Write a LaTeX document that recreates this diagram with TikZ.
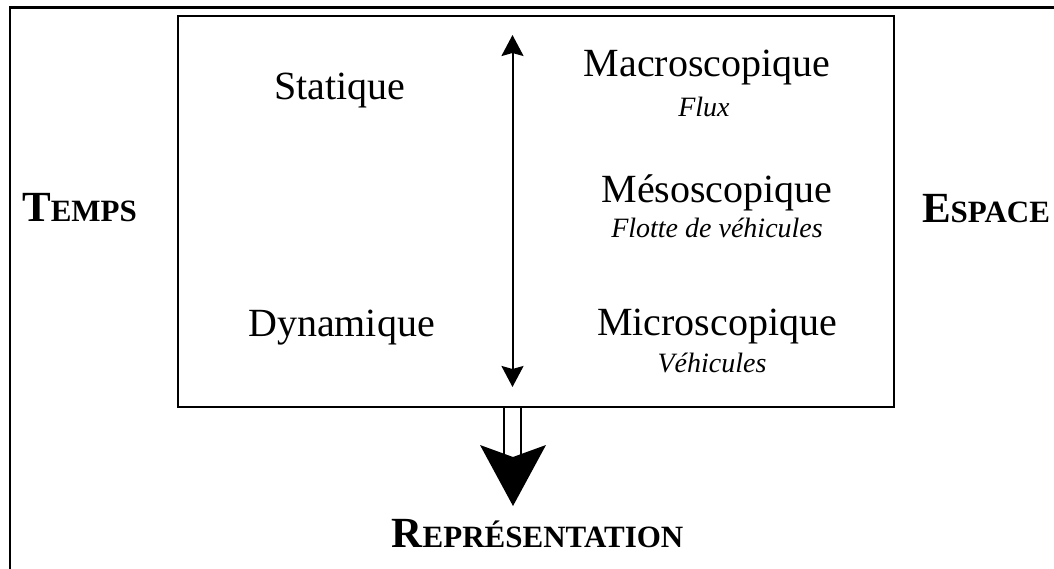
\documentclass[tikz,border=0pt]{standalone}
\usepackage{fontspec}
\setmainfont{Liberation Serif}
\usetikzlibrary{arrows.meta}
\newcommand{\fakesc}[2]{{\fontsize{43}{43}\selectfont #1}{\fontsize{31}{31}\selectfont #2}}
\tikzset{
  maintext/.style={anchor=base, inner sep=0pt, font=\fontsize{40}{40}\selectfont},
  subtext/.style={anchor=base, inner sep=0pt, font=\fontsize{28}{28}\selectfont\itshape},
  axistext/.style={anchor=base, inner sep=0pt, font=\bfseries},
  framebox/.style={draw, line width=2pt, inner sep=0pt},
  scalearrow/.style={line width=2pt, {Stealth[length=21pt,width=22pt,inset=3pt]}-{Stealth[length=21pt,width=22pt,inset=3pt]}},
}
\begin{document}
\begin{tikzpicture}[x=1pt,y=-1pt]
\useasboundingbox (0,0) rectangle (1054,569);
% outer frame (cropped)
\draw[line width=2.5pt] (10,569) -- (10,7.5) -- (1054,7.5);
% inner frame
\node[framebox, minimum width=716pt, minimum height=391pt] (frame) at (536,211.5) {};
% left column
\node[maintext] (stat) at (340,100) {Statique};
\node[maintext] (dyn) at (341.5,336) {Dynamique};
% right column
\node[maintext] (macro) at (707,77) {Macroscopique};
\node[subtext] (flux) at (704,117) {Flux};
\node[maintext] (meso) at (717,203) {Mésoscopique};
\node[subtext] (flotte) at (717,238) {Flotte de véhicules};
\node[maintext] (micro) at (717,335) {Microscopique};
\node[subtext] (veh) at (712,372) {Véhicules};
% axis labels
\node[axistext] (temps) at (79.5,222) {\fakesc{T}{EMPS}};
\node[axistext] (espace) at (986,223) {\fakesc{E}{SPACE}};
\node[axistext] (repr) at (537.5,547) {\fakesc{R}{EPRÉSENTATION}};
% scale arrow
\coordinate (vtop) at (512.5,35);
\coordinate (vbot) at (512.5,387);
\draw[scalearrow] (vtop) -- (vbot);
% output arrow
\coordinate (oa) at (frame.south -| 512.5,0);
\coordinate (otip) at (513,506);
\draw[line width=2pt] ([xshift=-8.5pt]oa) -- ++(0,51);
\draw[line width=2pt] ([xshift=8.5pt]oa) -- ++(0,51);
\fill (otip) -- ++(-33,-61) -- ++(33,12) -- ++(33,-12) -- cycle;
\end{tikzpicture}
\end{document}
